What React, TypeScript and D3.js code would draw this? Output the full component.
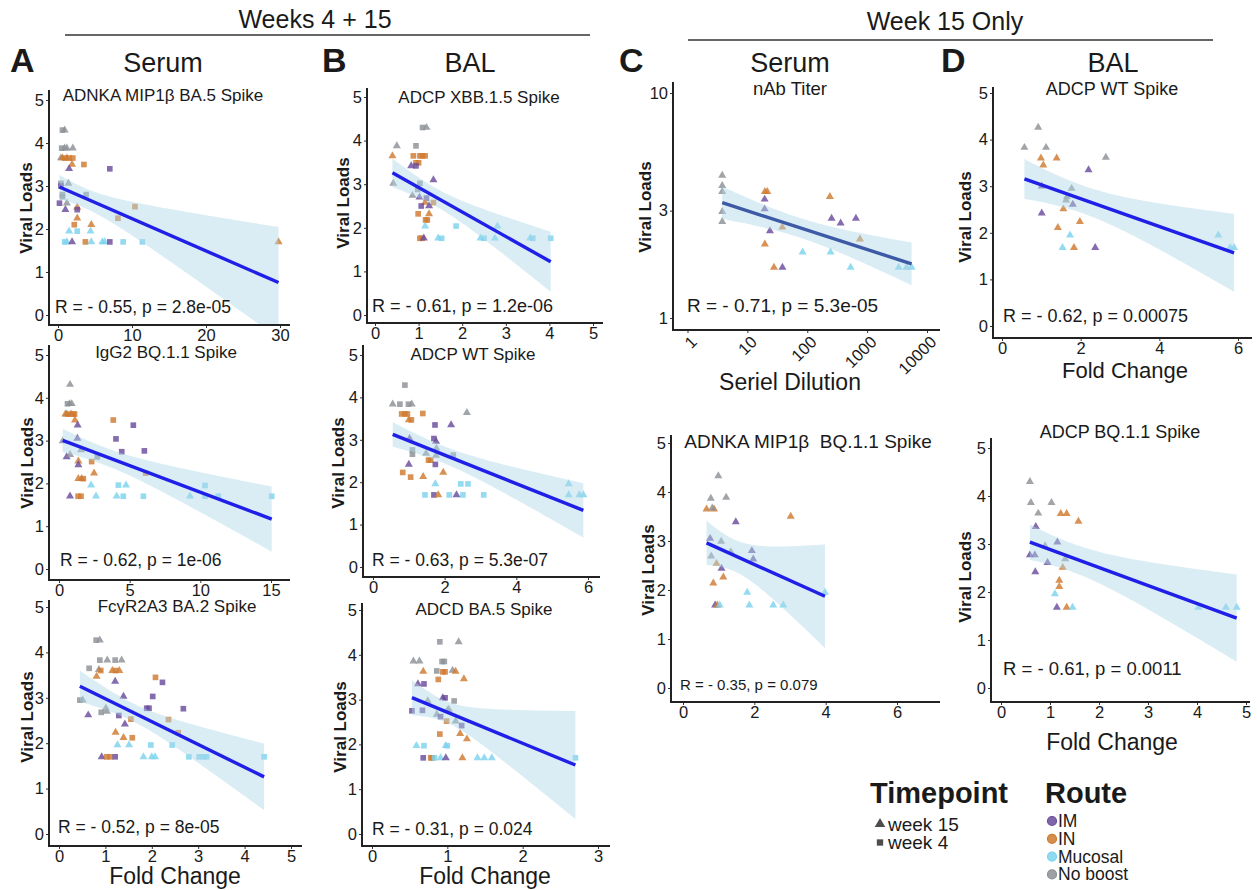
import { useEffect, useRef } from "react";
import * as d3 from "d3";

const IM = "IM";
const IN = "IN";
const MU = "Mucosal";
const NB = "No boost";

const routes = [IM, IN, MU, NB];
const routeColors = ["#6a4c9c", "#cf7a30", "#7dd3ef", "#8c9196"];
const timepoints = ["week 15", "week 4"];

// [fold change, viral load, route, week]
const serumNkBA5 = [
  [0.6, 4.3, NB, 4], [0.9, 4.3, NB, 15], [0.5, 3.88, NB, 4], [0.9, 3.88, NB, 15], [1.2, 3.88, NB, 15], [2.0, 3.88, NB, 15], [0.4, 3.65, NB, 15],
  [0.6, 3.65, IN, 15], [0.9, 3.65, IN, 4], [1.2, 3.65, IN, 15], [1.5, 3.65, IN, 4], [2.0, 3.65, IN, 4], [1.9, 3.5, IN, 15], [3.5, 3.5, IN, 4],
  [1.5, 3.4, IM, 15], [7.0, 3.4, IM, 4],
  [0.4, 3.06, NB, 4], [0.4, 3.0, IM, 4], [1.4, 3.06, NB, 15],
  [0.6, 2.8, NB, 4], [0.6, 2.75, NB, 4], [3.8, 2.8, NB, 4],
  [0.2, 2.6, IM, 4], [1.2, 2.6, NB, 15],
  [2.6, 2.5, IN, 15], [10.4, 2.52, IN, 4],
  [1.0, 2.45, IM, 15], [2.6, 2.45, IM, 4],
  [2.6, 2.25, IN, 15], [8.1, 2.25, IN, 4], [2.2, 2.1, IN, 4], [4.5, 2.1, IN, 15],
  [1.5, 1.95, MU, 15], [4.4, 1.95, MU, 15], [2.6, 1.95, MU, 4],
  [0.9, 1.7, MU, 4], [1.2, 1.7, MU, 15], [4.5, 1.7, MU, 15], [6.0, 1.7, MU, 15], [6.3, 1.7, MU, 15], [8.8, 1.7, MU, 4],
  [11.4, 1.7, MU, 4], [1.9, 1.7, IM, 15], [3.7, 1.7, IN, 4], [7.0, 1.7, IM, 4], [29.8, 1.7, IN, 15],
];

const serumIgG2BQ = [
  [0.78, 4.31, NB, 15], [0.6, 3.86, NB, 4], [0.75, 3.86, NB, 15], [0.9, 3.86, NB, 15], [0.55, 3.62, NB, 15],
  [0.45, 3.62, IN, 15], [0.65, 3.62, IN, 4], [0.85, 3.62, IN, 15], [1.0, 3.62, IN, 4], [1.1, 3.62, IN, 4],
  [1.13, 3.48, IN, 15], [3.84, 3.48, IN, 4],
  [1.32, 3.36, IM, 15], [5.26, 3.36, IM, 4],
  [4.03, 3.04, IM, 4], [1.3, 3.05, IM, 15], [0.26, 2.99, NB, 15],
  [1.56, 2.78, NB, 15], [4.44, 2.74, IM, 4], [6.04, 2.76, IM, 4],
  [2.71, 2.62, NB, 4], [0.54, 2.62, IM, 15], [0.78, 2.67, NB, 15],
  [2.31, 2.51, IN, 4], [1.37, 2.52, IN, 15], [1.37, 2.43, IM, 15],
  [2.48, 2.24, IN, 15], [6.13, 2.24, IN, 4],
  [1.37, 2.11, IN, 15], [1.6, 2.11, IN, 15], [1.72, 2.11, IN, 4],
  [2.27, 1.96, MU, 15], [4.74, 1.96, MU, 15], [4.2, 1.96, MU, 4], [10.33, 1.95, MU, 4],
  [0.78, 1.7, IM, 15], [1.35, 1.7, IN, 4], [1.56, 1.7, IN, 4], [2.62, 1.7, MU, 15], [4.08, 1.7, MU, 15], [4.55, 1.7, MU, 4],
  [5.97, 1.7, MU, 4], [9.27, 1.7, MU, 15], [10.33, 1.7, MU, 4], [11.27, 1.7, MU, 4], [15.05, 1.7, MU, 4],
];

const serumFcBA2 = [
  [0.8, 4.27, NB, 4], [0.88, 4.27, NB, 15],
  [0.88, 3.83, NB, 4], [1.04, 3.83, NB, 15], [1.21, 3.83, NB, 4], [1.35, 3.83, NB, 15],
  [0.65, 3.65, NB, 4], [0.86, 3.62, NB, 15],
  [0.81, 3.47, IN, 15], [0.9, 3.6, IN, 4], [1.15, 3.6, IN, 15], [1.22, 3.6, IN, 4], [1.3, 3.6, IN, 15], [2.08, 3.45, IN, 4],
  [2.23, 3.34, IM, 4], [1.21, 3.36, IM, 15], [1.39, 3.03, IM, 15], [2.02, 3.03, IM, 4],
  [0.45, 2.95, NB, 4], [0.51, 2.95, NB, 15], [1.01, 2.77, NB, 15], [1.03, 2.7, NB, 15], [0.91, 2.68, NB, 4],
  [1.89, 2.77, IM, 4], [1.94, 2.77, IM, 4], [2.68, 2.76, IM, 4], [0.63, 2.62, IM, 15], [1.29, 2.61, IM, 4], [1.42, 2.42, IM, 15],
  [1.55, 2.53, IN, 4], [2.36, 2.52, IN, 4], [2.57, 2.23, IN, 4], [1.22, 2.24, IN, 15], [1.39, 2.12, IN, 15], [1.58, 2.12, IN, 4],
  [1.26, 1.96, MU, 15], [1.51, 1.96, MU, 15], [1.98, 1.96, MU, 4], [2.44, 1.96, MU, 4],
  [0.92, 1.7, IM, 15], [1.03, 1.7, IN, 4], [1.1, 1.7, IN, 4], [1.21, 1.7, IM, 4], [1.82, 1.7, MU, 15], [2.0, 1.7, MU, 15],
  [2.07, 1.7, MU, 15], [2.8, 1.7, MU, 4], [3.02, 1.7, MU, 4], [3.12, 1.7, MU, 4], [3.18, 1.7, MU, 4], [4.42, 1.7, MU, 4],
];

const balAdcpXBB = [
  [1.09, 4.3, NB, 4], [1.18, 4.3, NB, 15], [0.5, 3.88, NB, 15], [0.94, 3.88, NB, 4],
  [0.4, 3.65, IN, 15], [0.88, 3.65, IN, 4], [1.03, 3.65, IN, 4], [1.09, 3.65, IN, 4], [1.15, 3.65, IN, 4],
  [0.94, 3.49, IN, 4], [1.0, 3.49, IN, 4],
  [0.83, 3.42, IM, 15], [0.94, 3.42, IM, 4],
  [0.42, 3.02, NB, 15], [1.03, 3.02, NB, 4], [1.34, 3.1, IM, 15], [0.98, 2.88, NB, 4],
  [0.86, 2.74, NB, 15], [1.02, 2.7, IM, 15], [1.18, 2.68, IM, 4],
  [1.15, 2.58, IN, 15], [1.34, 2.58, IN, 4], [1.06, 2.5, IM, 4], [1.24, 2.5, IM, 15],
  [0.99, 2.32, IN, 4], [1.24, 2.32, IN, 15], [1.16, 2.18, IN, 4], [1.2, 2.18, IN, 4],
  [1.15, 2.04, MU, 15], [1.86, 2.04, MU, 4], [2.81, 2.04, MU, 15],
  [1.03, 1.76, IN, 4], [1.08, 1.76, IN, 4], [1.12, 1.76, IM, 15], [1.45, 1.76, MU, 15], [1.53, 1.76, MU, 4],
  [2.42, 1.76, MU, 15], [2.5, 1.76, MU, 4], [2.75, 1.76, MU, 15], [3.56, 1.76, MU, 15], [3.62, 1.76, MU, 4], [4.03, 1.76, MU, 4],
];

const balAdcpWT = [
  [0.89, 4.29, NB, 4], [0.55, 3.84, NB, 15], [0.75, 3.84, NB, 4], [0.99, 3.84, NB, 4], [1.08, 3.84, NB, 15],
  [0.8, 3.61, IN, 4], [0.89, 3.61, IN, 4], [0.96, 3.61, IN, 4], [1.39, 3.62, IN, 4], [1.0, 3.47, IN, 15], [1.07, 3.47, IN, 4],
  [1.73, 3.35, IM, 4], [2.18, 3.35, IM, 15], [2.62, 3.64, NB, 15],
  [1.02, 3.03, IM, 15], [1.7, 3.03, IM, 4], [1.76, 2.96, IM, 15],
  [1.1, 2.76, NB, 4], [1.1, 2.66, NB, 4], [1.48, 2.68, NB, 15], [1.77, 2.8, NB, 15], [1.76, 2.63, NB, 15], [2.24, 2.64, NB, 4],
  [1.55, 2.52, IN, 4], [1.61, 2.52, IN, 4], [1.74, 2.42, IM, 4], [1.0, 2.42, IM, 15],
  [0.83, 2.23, IN, 4], [1.96, 2.23, IN, 15], [1.05, 2.12, IN, 4], [1.4, 2.13, IN, 15],
  [1.74, 1.96, MU, 15], [2.45, 1.96, MU, 4], [2.65, 1.96, MU, 4], [5.46, 1.96, MU, 15],
  [1.45, 1.7, MU, 4], [1.7, 1.7, IM, 4], [1.82, 1.7, IN, 15], [2.13, 1.7, MU, 4], [2.33, 1.7, IM, 15], [2.51, 1.7, MU, 4],
  [3.09, 1.7, MU, 4], [5.46, 1.7, MU, 15], [5.76, 1.7, MU, 15], [5.87, 1.7, MU, 15],
];

const balAdcdBA5 = [
  [0.9, 4.29, NB, 4], [1.15, 4.29, NB, 15], [0.55, 3.86, NB, 15], [0.63, 3.86, NB, 15], [0.93, 3.85, NB, 4], [0.96, 3.85, NB, 4],
  [0.86, 3.64, NB, 4], [1.07, 3.65, NB, 15], [0.68, 3.63, IN, 15], [0.94, 3.62, IN, 4], [0.97, 3.62, IN, 4], [1.11, 3.63, IN, 15],
  [0.88, 3.45, IN, 4], [1.22, 3.46, IN, 15], [0.61, 3.35, IM, 15], [0.69, 3.35, IM, 4],
  [0.94, 3.04, IM, 15], [0.97, 3.04, IM, 4], [1.09, 2.97, NB, 4], [0.74, 2.97, NB, 15],
  [0.53, 2.75, IM, 4], [0.67, 2.76, IM, 4], [0.86, 2.67, NB, 15], [0.91, 2.62, IM, 4], [1.0, 2.76, NB, 15], [1.02, 2.78, NB, 15],
  [0.99, 2.52, IN, 4], [1.11, 2.52, NB, 15], [1.19, 2.42, IM, 4],
  [0.9, 2.23, IN, 4], [1.17, 2.24, IN, 15], [1.26, 2.12, IN, 15],
  [0.59, 1.97, MU, 15], [0.69, 1.97, MU, 4], [0.98, 1.97, MU, 15], [1.0, 1.97, MU, 4],
  [0.68, 1.7, IM, 4], [0.78, 1.7, IN, 4], [0.8, 1.7, IN, 4], [0.83, 1.7, MU, 4], [0.91, 1.7, MU, 15], [0.98, 1.7, IM, 15],
  [1.2, 1.7, IN, 15], [1.4, 1.7, MU, 15], [1.49, 1.7, MU, 15], [1.59, 1.7, MU, 15], [2.7, 1.7, MU, 4],
];

// serial dilution vs viral load, week 15
const serumNab = [
  [3.8, 4.3, NB, 15], [3.8, 3.87, NB, 15], [3.8, 3.64, NB, 15], [3.8, 2.97, NB, 15], [3.8, 2.68, NB, 15],
  [19.6, 3.64, IN, 15], [21.5, 3.64, IN, 15], [19.4, 3.37, IM, 15], [19.4, 3.05, IM, 15], [23.8, 2.44, IM, 15],
  [38.3, 2.53, IN, 15], [19.6, 2.13, IN, 15], [27.8, 1.68, IN, 15], [38.5, 1.68, IM, 15], [83.7, 1.96, MU, 15],
  [239, 3.46, IN, 15], [255, 2.77, IM, 15], [361, 2.64, IM, 15], [650, 2.77, IM, 15], [245, 1.96, MU, 15],
  [759, 2.24, IN, 15], [530, 1.68, MU, 15], [3357, 1.68, MU, 15], [4560, 1.68, MU, 15], [5530, 1.68, MU, 15],
];

const serumNkBQ = [
  [0.99, 4.33, NB, 15], [0.78, 3.87, NB, 15], [1.21, 3.89, NB, 15], [0.66, 3.65, IN, 15], [0.87, 3.65, IN, 15],
  [0.82, 3.67, NB, 15], [3.02, 3.5, IN, 15], [1.48, 3.39, IM, 15], [0.76, 3.05, IM, 15], [1.07, 2.99, NB, 15],
  [1.34, 2.78, NB, 15], [1.93, 2.8, IM, 15], [0.79, 2.69, NB, 15], [1.97, 2.63, IM, 15], [0.94, 2.54, IN, 15],
  [1.08, 2.44, IM, 15], [1.13, 2.26, IN, 15], [0.85, 2.14, IN, 15], [1.8, 1.95, MU, 15], [3.98, 1.95, MU, 15],
  [0.9, 1.69, IM, 15], [0.96, 1.69, IN, 15], [1.03, 1.69, MU, 15], [1.86, 1.69, MU, 15], [2.53, 1.69, MU, 15], [2.81, 1.69, MU, 15],
];

const balAdcpWT15 = [
  [0.92, 4.26, NB, 15], [0.57, 3.83, NB, 15], [1.12, 3.83, NB, 15], [0.99, 3.6, IN, 15], [1.39, 3.6, IN, 15],
  [1.05, 3.45, IN, 15], [2.64, 3.62, NB, 15], [2.2, 3.35, IM, 15], [1.77, 2.95, NB, 15], [1.01, 3.0, IM, 15],
  [1.65, 2.77, NB, 15], [1.63, 2.7, NB, 15], [1.8, 2.61, IM, 15], [1.56, 2.51, IN, 15], [1.01, 2.42, IM, 15],
  [1.98, 2.24, IN, 15], [1.42, 2.11, IN, 15], [1.73, 1.95, MU, 15], [1.54, 1.68, MU, 15], [1.83, 1.68, IN, 15],
  [2.37, 1.68, IM, 15], [5.5, 1.95, MU, 15], [5.8, 1.68, MU, 15], [5.9, 1.68, MU, 15],
];

const balAdcpBQ15 = [
  [0.59, 4.3, NB, 15], [0.61, 3.86, NB, 15], [1.03, 3.86, NB, 15], [0.76, 3.64, NB, 15], [1.22, 3.63, IN, 15],
  [1.34, 3.63, IN, 15], [1.58, 3.47, IN, 15], [0.71, 3.36, IM, 15], [1.15, 3.04, IM, 15], [0.9, 2.96, NB, 15],
  [0.59, 2.77, IM, 15], [0.69, 2.77, IM, 15], [1.31, 2.69, NB, 15], [0.95, 2.61, IM, 15], [1.26, 2.51, IN, 15],
  [0.7, 2.42, IM, 15], [1.19, 2.24, IN, 15], [1.19, 2.11, IN, 15], [1.1, 1.96, MU, 15], [1.14, 1.68, IM, 15],
  [1.34, 1.68, IN, 15], [1.46, 1.68, MU, 15], [4.03, 1.68, MU, 15], [4.59, 1.68, MU, 15], [4.81, 1.68, MU, 15],
];

const yTicks = [0, 1, 2, 3, 4, 5];

const FONT = "'Liberation Sans', Arial, sans-serif";

// layout of each small plot (axis frame in px, scale ranges, label spots)
const panels = [
  { id: "a1", data: serumNkBA5, title: "ADNKA MIP1β BA.5 Spike", stat: "R = - 0.55, p = 2.8e-05",
    left: 49, top: 90, bottom: 325, right: 290, xd: [0, 30], xr: [58, 280], yr: [315, 100], xTicks: [0, 10, 20, 30],
    tx: 163, ty: 101, ts: 17, sx: 55, sy: 313, ss: 17.5, lx: 26, ly: 208 },
  { id: "a2", data: serumIgG2BQ, title: "IgG2 BQ.1.1 Spike", stat: "R = - 0.62, p = 1e-06",
    left: 49, top: 345, bottom: 580, right: 290, xd: [0, 15], xr: [59, 271], yr: [569, 355], xTicks: [0, 5, 10, 15],
    tx: 166, ty: 358, ts: 17, sx: 60, sy: 566, ss: 17.5, lx: 27, ly: 463 },
  { id: "a3", data: serumFcBA2, title: "FcγR2A3 BA.2 Spike", stat: "R = - 0.52, p = 8e-05",
    left: 49, top: 600, bottom: 846, right: 302, xd: [0, 5], xr: [59, 291], yr: [834, 607], xTicks: [0, 1, 2, 3, 4, 5],
    tx: 177, ty: 612, ts: 17, sx: 58, sy: 833, ss: 17.5, lx: 27, ly: 717, xlab: "Fold Change", xlx: 175, xly: 884 },
  { id: "b1", data: balAdcpXBB, title: "ADCP XBB.1.5 Spike", stat: "R = - 0.61, p = 1.2e-06",
    left: 367, top: 88, bottom: 323, right: 603, xd: [0, 5], xr: [375, 593], yr: [315, 97], xTicks: [0, 1, 2, 3, 4, 5],
    tx: 479, ty: 103, ts: 17, sx: 372, sy: 312, ss: 18, lx: 343, ly: 203 },
  { id: "b2", data: balAdcpWT, title: "ADCP WT Spike", stat: "R = - 0.63, p = 5.3e-07",
    left: 363, top: 345, bottom: 577, right: 600, xd: [0, 6], xr: [373, 588], yr: [567, 355], xTicks: [0, 2, 4, 6],
    tx: 473, ty: 360, ts: 17, sx: 372, sy: 566, ss: 17.5, lx: 338, ly: 463 },
  { id: "b3", data: balAdcdBA5, title: "ADCD BA.5 Spike", stat: "R = - 0.31, p = 0.024",
    left: 362, top: 603, bottom: 846, right: 610, xd: [0, 3], xr: [372, 598], yr: [834, 610], xTicks: [0, 1, 2, 3],
    tx: 484, ty: 615, ts: 17, sx: 372, sy: 835, ss: 17.5, lx: 340, ly: 727, xlab: "Fold Change", xlx: 485, xly: 884 },
  { id: "c1", data: serumNab, title: "nAb Titer", stat: "R = - 0.71, p = 5.3e-05", log: true, line: "#3d5aa6",
    left: 673, top: 82, bottom: 330, right: 940, xd: [1, 10000], xr: [687.5, 927], yd: [1, 10], yr: [318, 93],
    xTicks: [1, 10, 100, 1000, 10000], yTicks: [1, 3, 10],
    tx: 790, ty: 95, ts: 18.5, sx: 687, sy: 312, ss: 19, lx: 645, ly: 207, xlab: "Seriel Dilution", xlx: 790, xly: 390 },
  { id: "c2", data: serumNkBQ, title: "ADNKA MIP1β  BQ.1.1 Spike", stat: "R = - 0.35, p = 0.079",
    left: 671, top: 435, bottom: 702, right: 940, xd: [0, 6], xr: [683, 897], yr: [688, 443], xTicks: [0, 2, 4, 6],
    tx: 808, ty: 448, ts: 19, sx: 680, sy: 690, ss: 15, lx: 648, ly: 570 },
  { id: "d1", data: balAdcpWT15, title: "ADCP WT Spike", stat: "R = - 0.62, p = 0.00075",
    left: 993, top: 87, bottom: 338, right: 1252, xd: [0, 6], xr: [1002, 1238], yr: [326, 93], xTicks: [0, 2, 4, 6],
    tx: 1112, ty: 95, ts: 18, sx: 1003, sy: 322, ss: 18, lx: 965, ly: 217, xlab: "Fold Change", xlx: 1125, xly: 378, xls: 22 },
  { id: "d2", data: balAdcpBQ15, title: "ADCP BQ.1.1 Spike", stat: "R = - 0.61, p = 0.0011",
    left: 991, top: 438, bottom: 702, right: 1250, xd: [0, 5], xr: [1001, 1246], yr: [688, 448], xTicks: [0, 1, 2, 3, 4, 5],
    tx: 1120, ty: 438, ts: 18, sx: 1003, sy: 675, ss: 18.5, lx: 965, ly: 577, xlab: "Fold Change", xlx: 1112, xly: 750 },
];

const color = d3.scaleOrdinal<string, string>().domain(routes).range(routeColors);

function drawPanel(svg: any, p: any) {
  const g = svg.append("g");
  const xs = p.log ? d3.scaleLog().domain(p.xd).range(p.xr) : d3.scaleLinear().domain(p.xd).range(p.xr);
  const ys = p.log ? d3.scaleLog().domain(p.yd).range(p.yr) : d3.scaleLinear().domain([0, 5]).range(p.yr);
  const fwd = p.log ? (v: number) => Math.log10(v) : (v: number) => v;
  const inv = p.log ? (v: number) => Math.pow(10, v) : (v: number) => v;

  const clipId = "clip-" + p.id;
  g.append("clipPath").attr("id", clipId).append("rect")
    .attr("x", p.left).attr("y", p.top)
    .attr("width", p.right - p.left).attr("height", p.bottom - p.top);

  // points
  g.append("g").selectAll("path").data(p.data).join("path")
    .attr("transform", (d: any) => `translate(${xs(d[0])},${ys(d[1])})`)
    .attr("d", (d: any) => d3.symbol(d[3] === 4 ? d3.symbolSquare : d3.symbolTriangle, d[3] === 4 ? 32 : 28)())
    .attr("fill", (d: any) => color(d[2]))
    .attr("fill-opacity", 0.82);

  // linear fit with 95% band (on the plotted scale)
  const u = p.data.map((d: any) => fwd(d[0]));
  const v = p.data.map((d: any) => fwd(d[1]));
  const n = u.length;
  const mu = d3.mean(u) as number;
  const mv = d3.mean(v) as number;
  const sxx = d3.sum(u, (a: number) => (a - mu) ** 2);
  const sxy = d3.sum(u, (a: number, i: number) => (a - mu) * (v[i] - mv));
  const b = sxy / sxx;
  const a0 = mv - b * mu;
  const se = Math.sqrt(d3.sum(u, (a: number, i: number) => (v[i] - a0 - b * a) ** 2) / (n - 2));
  const tq = 1.96 + 2.4 / (n - 2);
  const [lo, hi] = d3.extent(u) as [number, number];
  const grid = d3.range(0, 81).map((i) => lo + ((hi - lo) * i) / 80);
  const band = grid.map((x) => {
    const h = tq * se * Math.sqrt(1 / n + (x - mu) ** 2 / sxx);
    const m = a0 + b * x;
    return [x, m - h, m + h];
  });

  g.append("path").datum(band)
    .attr("clip-path", `url(#${clipId})`)
    .attr("fill", "#add8e6").attr("fill-opacity", 0.45)
    .attr("d", d3.area<any>().x((d) => xs(inv(d[0]))).y0((d) => ys(inv(d[1]))).y1((d) => ys(inv(d[2]))));

  g.append("path").datum([lo, hi])
    .attr("clip-path", `url(#${clipId})`)
    .attr("fill", "none").attr("stroke", p.line || "#1f1fe8").attr("stroke-width", 3.4)
    .attr("d", d3.line<number>().x((d) => xs(inv(d))).y((d) => ys(inv(a0 + b * d))));

  // axes
  const yAxis = g.append("g").attr("transform", `translate(${p.left},0)`)
    .call(d3.axisLeft(ys as any).tickValues(p.yTicks || yTicks).tickSize(3).tickPadding(2).tickFormat(d3.format("d") as any));
  const xAxis = g.append("g").attr("transform", `translate(0,${p.bottom})`)
    .call(d3.axisBottom(xs as any).tickValues(p.xTicks).tickSize(3).tickPadding(1).tickFormat(d3.format("d") as any));
  [yAxis, xAxis].forEach((ax) => {
    ax.select(".domain").remove();
    ax.selectAll("line").attr("stroke", "#333");
    ax.selectAll("text").attr("font-size", 16.5).attr("font-family", FONT).attr("fill", "#1a1a1a");
  });
  if (p.log) {
    xAxis.selectAll("text")
      .attr("y", 0).attr("dy", "0.35em").attr("text-anchor", "end")
      .attr("transform", "translate(6,9) rotate(-45)");
  }

  g.append("line").attr("x1", p.left).attr("x2", p.left).attr("y1", p.top).attr("y2", p.bottom)
    .attr("stroke", "#222").attr("stroke-width", 2);
  g.append("line").attr("x1", p.left - 1).attr("x2", p.right).attr("y1", p.bottom).attr("y2", p.bottom)
    .attr("stroke", "#222").attr("stroke-width", 2);

  // texts
  g.append("text").attr("x", p.tx).attr("y", p.ty).attr("text-anchor", "middle")
    .attr("font-size", p.ts).attr("font-family", FONT).attr("fill", "#1a1a1a")
    .style("white-space", "pre").text(p.title);
  g.append("text").attr("x", p.sx).attr("y", p.sy)
    .attr("font-size", p.ss).attr("font-family", FONT).attr("fill", "#1a1a1a").text(p.stat);
  g.append("text").attr("transform", `translate(${p.lx},${p.ly}) rotate(-90)`)
    .attr("text-anchor", "middle").attr("dy", "0.35em")
    .attr("font-size", 17).attr("font-weight", "bold").attr("font-family", FONT).attr("fill", "#1a1a1a")
    .text("Viral Loads");
  if (p.xlab) {
    g.append("text").attr("x", p.xlx).attr("y", p.xly).attr("text-anchor", "middle")
      .attr("font-size", p.xls || 23).attr("font-family", FONT).attr("fill", "#1a1a1a").text(p.xlab);
  }
}

const letters = [["A", 10], ["B", 322], ["C", 619], ["D", 941]];
const subtitles = [["Serum", 163], ["BAL", 470], ["Serum", 790], ["BAL", 1113]];

function App() {
  const ref = useRef<SVGSVGElement>(null);

  useEffect(() => {
    const svg = d3.select(ref.current);
    svg.selectAll("*").remove();

    // group headers
    const headers = [
      { text: "Weeks 4 + 15", x: 315, y: 28, x1: 65, x2: 590, ly: 35 },
      { text: "Week 15 Only", x: 945, y: 30, x1: 688, x2: 1213, ly: 40 },
    ];
    headers.forEach((h) => {
      svg.append("text").attr("x", h.x).attr("y", h.y).attr("text-anchor", "middle")
        .attr("font-size", 25).attr("font-family", "'Liberation Sans Narrow', 'Liberation Sans', sans-serif")
        .attr("fill", "#1a1a1a").text(h.text);
      svg.append("line").attr("x1", h.x1).attr("x2", h.x2).attr("y1", h.ly).attr("y2", h.ly)
        .attr("stroke", "#333").attr("stroke-width", 1.6);
    });

    letters.forEach(([t, x]) => {
      svg.append("text").attr("x", x).attr("y", 72).attr("font-size", 34).attr("font-weight", "bold")
        .attr("font-family", FONT).attr("fill", "#1a1a1a").text(t);
    });
    subtitles.forEach(([t, x]) => {
      svg.append("text").attr("x", x).attr("y", 72).attr("text-anchor", "middle").attr("font-size", 27)
        .attr("font-family", FONT).attr("fill", "#1a1a1a").text(t);
    });

    panels.forEach((p) => drawPanel(svg, p));

    // legend: timepoint
    const lg = svg.append("g").attr("font-family", FONT).attr("fill", "#1a1a1a");
    lg.append("text").attr("x", 870).attr("y", 803).attr("font-size", 29).attr("font-weight", "bold").text("Timepoint");
    timepoints.forEach((t, i) => {
      const yy = 824 + i * 18.5;
      lg.append("path").attr("transform", `translate(880,${yy})`)
        .attr("d", d3.symbol(i === 0 ? d3.symbolTriangle : d3.symbolSquare, i === 0 ? 48 : 40)())
        .attr("fill", "#4d4d4d");
      lg.append("text").attr("x", 888).attr("y", yy + 6.5).attr("font-size", 19).text(t);
    });

    // legend: route
    lg.append("text").attr("x", 1045).attr("y", 803).attr("font-size", 29).attr("font-weight", "bold").text("Route");
    routes.forEach((r, i) => {
      const yy = 821 + i * 17.8;
      lg.append("circle").attr("cx", 1052).attr("cy", yy).attr("r", 4.5)
        .attr("fill", color(r)).attr("fill-opacity", 0.85)
        .attr("stroke", color(r)).attr("stroke-width", 1.2);
      lg.append("text").attr("x", 1058).attr("y", yy + 6).attr("font-size", 17.5).text(r);
    });
  }, []);

  return (
    <svg ref={ref} width={1257} height={890}
      style={{ position: "absolute", left: 0, top: 0, background: "#fff" }} />
  );
}

export default App;
